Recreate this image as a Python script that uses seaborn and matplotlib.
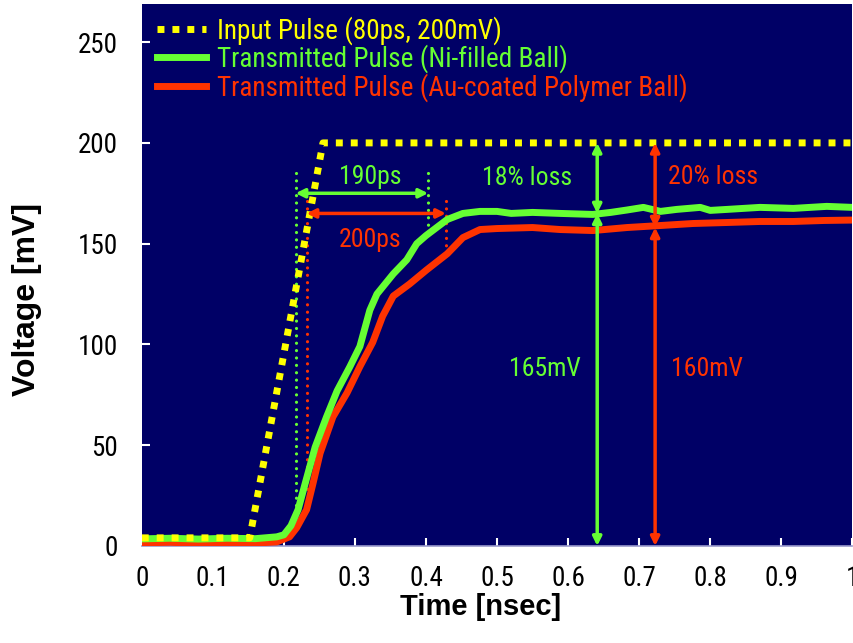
import matplotlib
matplotlib.use("Agg")
import matplotlib.pyplot as plt
from matplotlib import font_manager
import seaborn as sns
import pandas as pd

# ---------------- data ----------------
input_t = [0.0, 0.152, 0.255, 1.0]
input_v = [4.0, 4.0, 200.0, 200.0]

ni_t = [0.0, 0.04, 0.08, 0.12, 0.16, 0.19, 0.20, 0.21, 0.22, 0.23, 0.244, 0.26, 0.275,
        0.293, 0.307, 0.321, 0.331, 0.354, 0.373, 0.387, 0.400, 0.415, 0.430, 0.452,
        0.476, 0.50, 0.52, 0.55, 0.589, 0.635, 0.66, 0.683, 0.706, 0.73, 0.753, 0.786,
        0.80, 0.824, 0.87, 0.917, 0.964, 1.0]
ni_v = [3.5, 3.8, 3.4, 3.8, 3.6, 4.5, 5.5, 10, 18, 31, 49, 64, 77,
        89, 99, 117, 125, 135, 142, 150, 154, 158, 162, 165,
        166, 166, 165, 165.5, 165, 164.5, 165.5, 166.7, 168, 166, 167, 168,
        166.5, 167, 168, 167.5, 168.5, 168]

au_t = [0.0, 0.04, 0.08, 0.12, 0.16, 0.19, 0.208, 0.218, 0.232, 0.241, 0.251, 0.269,
        0.289, 0.307, 0.325, 0.339, 0.354, 0.377, 0.401, 0.43, 0.452, 0.476, 0.50,
        0.55, 0.589, 0.635, 0.683, 0.73, 0.776, 0.824, 0.87, 0.917, 0.96, 1.0]
au_v = [1.5, 1.8, 1.2, 1.7, 1.4, 2.0, 4.5, 9, 18, 31, 46, 64,
        76, 89, 101, 114, 124, 130, 137, 145, 153, 157, 157.5,
        158, 157, 156.5, 158, 159, 160, 160.5, 161, 161, 161.5, 161.7]

legend_labels = ["Input Pulse (80ps, 200mV)",
                 "Transmitted Pulse (Ni-filled Ball)",
                 "Transmitted Pulse (Au-coated Polymer Ball)"]
x_ticks = [0, 0.1, 0.2, 0.3, 0.4, 0.5, 0.6, 0.7, 0.8, 0.9, 1]
x_ticklabels = ["0", "0.1", "0.2", "0.3", "0.4", "0.5", "0.6", "0.7", "0.8", "0.9", "1"]
y_ticks = [0, 50, 100, 150, 200, 250]

YELLOW = "#FFFF00"
GREEN = "#66FF33"
RED = "#FF3300"
NAVY = "#000066"

# pick a condensed/narrow family if one is installed
names = sorted({f.name for f in font_manager.fontManager.ttflist})
narrow = None
for pref in ["Liberation Sans Narrow", "Arial Narrow", "Roboto Condensed",
             "DejaVu Sans Condensed", "Open Sans Condensed", "Noto Sans Condensed"]:
    if pref in names:
        narrow = pref
        break
if narrow is None:
    for n in names:
        if "Narrow" in n or "Condensed" in n:
            narrow = n
            break
NARROW = [narrow] if narrow else []
NARROW += ["Liberation Sans", "DejaVu Sans"]
BOLD = ["Liberation Sans", "DejaVu Sans"]

plt.rcParams["font.family"] = NARROW

fig = plt.figure(figsize=(8.54, 6.43), dpi=100)
ax = fig.add_axes([0.166, 0.151, 0.832, 0.843])
ax.set_facecolor(NAVY)

df_in = pd.DataFrame({"t": input_t, "v": input_v})
df_ni = pd.DataFrame({"t": ni_t, "v": ni_v})
df_au = pd.DataFrame({"t": au_t, "v": au_v})

sns.lineplot(data=df_au, x="t", y="v", ax=ax, color=RED, lw=5,
             label=legend_labels[2], zorder=3, sort=False)
sns.lineplot(data=df_ni, x="t", y="v", ax=ax, color=GREEN, lw=5,
             label=legend_labels[1], zorder=4, sort=False)
sns.lineplot(data=df_in, x="t", y="v", ax=ax, color=YELLOW, lw=5,
             linestyle=(0, (1, 1.15)), label=legend_labels[0], zorder=5, sort=False)

# dotted guide lines (round dots)
dot = dict(lw=2.3, linestyle=(0, (0.01, 2.3)), dash_capstyle="round", zorder=2)
ax.plot([0.2165, 0.2165], [185, 18], color=GREEN, **dot)
ax.plot([0.403, 0.403], [185, 158], color=GREEN, **dot)
ax.plot([0.232, 0.232], [171, 25], color=RED, **dot)
ax.plot([0.428, 0.428], [171, 146], color=RED, **dot)

def darrow(x0, y0, x1, y1, c):
    ax.annotate("", xy=(x1, y1), xytext=(x0, y0),
                arrowprops=dict(arrowstyle="<|-|>", color=c, lw=2.5,
                                mutation_scale=13, shrinkA=0, shrinkB=0),
                zorder=6)

darrow(0.2165, 175, 0.403, 175, GREEN)
darrow(0.232, 165, 0.428, 165, RED)
darrow(0.641, 200, 0.641, 165, GREEN)
darrow(0.641, 165, 0.641, 0, GREEN)
darrow(0.7225, 200, 0.7225, 158, RED)
darrow(0.7225, 158, 0.7225, 0, RED)

tk = dict(fontsize=18.5, ha="center", va="center", zorder=7)
ax.text(0.321, 183, "190ps", color=GREEN, **tk)
ax.text(0.321, 152, "200ps", color=RED, **tk)
ax.text(0.542, 182.5, "18% loss", color=GREEN, **tk)
ax.text(0.804, 183, "20% loss", color=RED, **tk)
ax.text(0.567, 88, "165mV", color=GREEN, **tk)
ax.text(0.796, 88, "160mV", color=RED, **tk)

ax.set_xlim(0, 1)
ax.set_ylim(0, 269)
ax.set_xticks(x_ticks)
ax.set_xticklabels(x_ticklabels)
ax.set_yticks(y_ticks)
ax.tick_params(axis="both", direction="in", color="white", length=6, width=1.5,
               labelsize=19.5, labelcolor="black")
ax.tick_params(axis="y", pad=17)
ax.tick_params(axis="x", pad=14)
for s in ["top", "right", "left"]:
    ax.spines[s].set_visible(False)
ax.spines["bottom"].set_color("#9999cc")
ax.spines["bottom"].set_linewidth(1.2)

ax.set_xlabel("Time [nsec]", fontsize=21, fontweight="bold", family=BOLD)
ax.set_ylabel("Voltage [mV]", fontsize=23, fontweight="bold", family=BOLD)
ax.xaxis.set_label_coords(0.477, -0.087)
ax.yaxis.set_label_coords(-0.141, 0.454)

# legend in reference order
h, l = ax.get_legend_handles_labels()
order = [l.index(lab) for lab in legend_labels]
leg = ax.legend([h[i] for i in order], [l[i] for i in order], loc="upper left",
                bbox_to_anchor=(0.021, 0.978), frameon=False, fontsize=19.6,
                handlelength=1.8, handletextpad=0.43, labelspacing=0.0,
                borderpad=0, borderaxespad=0)
for txt, c in zip(leg.get_texts(), [YELLOW, GREEN, RED]):
    txt.set_color(c)

fig.savefig("out.png", dpi=100, facecolor="white")
